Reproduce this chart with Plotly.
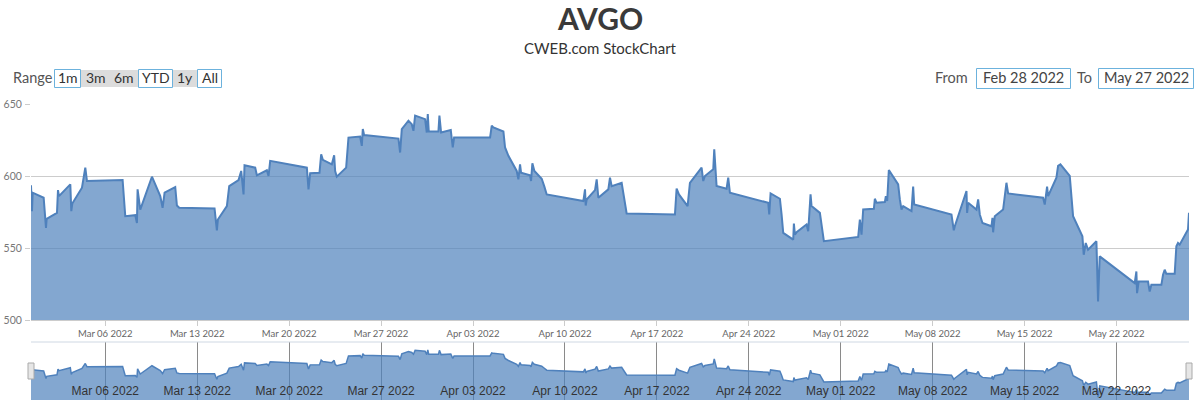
import plotly.graph_objects as go

# ---------------- data ----------------
times = [
    "2022-02-28 08:14", "2022-02-28 10:03", "2022-02-28 11:17", "2022-03-01 07:22", "2022-03-01 11:38",
    "2022-03-01 12:50", "2022-03-02 07:43", "2022-03-02 09:33", "2022-03-02 11:22", "2022-03-03 08:04",
    "2022-03-03 09:53", "2022-03-03 11:43", "2022-03-04 05:23", "2022-03-04 11:28", "2022-03-04 14:31",
    "2022-03-07 07:39", "2022-03-07 12:31", "2022-03-08 06:47", "2022-03-08 09:50", "2022-03-08 11:02",
    "2022-03-08 15:56", "2022-03-09 13:15", "2022-03-10 04:27", "2022-03-10 08:43", "2022-03-10 12:22",
    "2022-03-11 07:50", "2022-03-11 10:53", "2022-03-11 15:10", "2022-03-14 07:41", "2022-03-14 11:57",
    "2022-03-14 13:46", "2022-03-15 06:13", "2022-03-15 10:29", "2022-03-16 03:32", "2022-03-16 08:24",
    "2022-03-16 12:39", "2022-03-16 14:28", "2022-03-17 09:58", "2022-03-17 13:00", "2022-03-18 07:16",
    "2022-03-18 10:19", "2022-03-18 13:22", "2022-03-21 08:21", "2022-03-21 11:22", "2022-03-21 14:25",
    "2022-03-22 07:28", "2022-03-22 10:31", "2022-03-22 13:34", "2022-03-23 06:00", "2022-03-23 10:15",
    "2022-03-23 12:04", "2022-03-23 15:07", "2022-03-24 08:11", "2022-03-24 12:26", "2022-03-25 09:45",
    "2022-03-25 12:48", "2022-03-25 14:37", "2022-03-25 17:04", "2022-03-28 07:45", "2022-03-28 10:48",
    "2022-03-28 13:51", "2022-03-29 02:01", "2022-03-29 08:07", "2022-03-29 11:10", "2022-03-29 14:12",
    "2022-03-30 08:28", "2022-03-30 11:31", "2022-03-30 13:21", "2022-03-30 15:10", "2022-03-31 08:48",
    "2022-03-31 10:38", "2022-03-31 13:42", "2022-04-01 07:22", "2022-04-01 11:01", "2022-04-01 13:26",
    "2022-04-04 07:12", "2022-04-04 10:15", "2022-04-04 13:16", "2022-04-05 07:34", "2022-04-05 10:35",
    "2022-04-05 16:41", "2022-04-06 07:54", "2022-04-06 10:57", "2022-04-06 13:59", "2022-04-06 15:49",
    "2022-04-07 08:15", "2022-04-07 10:05", "2022-04-07 12:30", "2022-04-07 16:10", "2022-04-08 05:34",
    "2022-04-08 10:26", "2022-04-08 14:43", "2022-04-11 09:40", "2022-04-11 12:43", "2022-04-11 13:56",
    "2022-04-11 15:46", "2022-04-12 06:59", "2022-04-12 10:02", "2022-04-12 13:03", "2022-04-13 07:19",
    "2022-04-13 10:22", "2022-04-13 13:25", "2022-04-14 07:41", "2022-04-14 13:45", "2022-04-14 16:48",
    "2022-04-18 09:03", "2022-04-18 12:06", "2022-04-18 16:21", "2022-04-19 08:11", "2022-04-19 12:26",
    "2022-04-20 09:45", "2022-04-20 12:48", "2022-04-20 15:50", "2022-04-21 07:03", "2022-04-21 08:53",
    "2022-04-21 13:09", "2022-04-22 07:25", "2022-04-22 10:26", "2022-04-22 13:29", "2022-04-25 11:34",
    "2022-04-25 13:23", "2022-04-25 15:50", "2022-04-26 08:53", "2022-04-26 11:56", "2022-04-26 14:57",
    "2022-04-27 09:13", "2022-04-27 10:26", "2022-04-27 12:16", "2022-04-27 15:19", "2022-04-28 09:35",
    "2022-04-28 12:37", "2022-04-28 16:53", "2022-04-28 18:43", "2022-04-29 09:56", "2022-04-29 17:14",
    "2022-05-02 07:57", "2022-05-02 10:59", "2022-05-02 14:02", "2022-05-02 17:05", "2022-05-03 12:34",
    "2022-05-03 14:24", "2022-05-03 17:27", "2022-05-04 08:40", "2022-05-04 10:29", "2022-05-04 12:55",
    "2022-05-04 15:58", "2022-05-05 09:00", "2022-05-05 12:03", "2022-05-05 15:06", "2022-05-05 18:09",
    "2022-05-06 09:22", "2022-05-06 12:24", "2022-05-06 14:14", "2022-05-09 10:25", "2022-05-09 14:41",
    "2022-05-09 16:31", "2022-05-10 10:47", "2022-05-10 13:49", "2022-05-10 15:01", "2022-05-10 16:52",
    "2022-05-11 08:05", "2022-05-11 11:08", "2022-05-11 14:11", "2022-05-11 19:03", "2022-05-12 11:30",
    "2022-05-12 13:19", "2022-05-12 14:31", "2022-05-12 17:34", "2022-05-13 08:47", "2022-05-13 11:50",
    "2022-05-13 14:52", "2022-05-13 17:55", "2022-05-16 09:50", "2022-05-16 12:53", "2022-05-16 17:09",
    "2022-05-16 18:59", "2022-05-17 10:12", "2022-05-17 13:15", "2022-05-17 17:31", "2022-05-18 10:34",
    "2022-05-18 16:39", "2022-05-19 09:42", "2022-05-19 12:07", "2022-05-19 15:47", "2022-05-19 20:02",
    "2022-05-20 11:17", "2022-05-20 14:18", "2022-05-20 17:21", "2022-05-23 09:17", "2022-05-23 12:20",
    "2022-05-23 13:32", "2022-05-23 16:35", "2022-05-24 09:37", "2022-05-24 12:40", "2022-05-24 15:43",
    "2022-05-25 09:59", "2022-05-25 13:02", "2022-05-25 16:05", "2022-05-25 19:08", "2022-05-26 10:21",
    "2022-05-26 13:24", "2022-05-26 16:25", "2022-05-26 19:28", "2022-05-27 10:41", "2022-05-27 12:30",
]
prices = [
    593.5, 575.6, 588.4, 584.9, 564.0, 570.2, 574.4, 590.2, 586.0, 594.2,
    575.6, 580.9, 591.9, 605.8, 596.5, 597.2, 572.1, 572.8, 567.4, 590.7,
    576.7, 599.5, 586.0, 577.9, 588.4, 592.3, 579.5, 577.9, 577.4, 562.3,
    569.8, 579.1, 593.0, 597.2, 603.5, 587.2, 607.4, 605.8, 600.5, 604.0,
    600.0, 610.5, 605.8, 590.7, 601.9, 602.3, 615.1, 611.2, 608.1, 614.4,
    603.5, 599.5, 605.8, 626.7, 627.4, 620.9, 632.6, 628.4, 626.0, 616.3,
    632.6, 638.4, 636.0, 631.4, 641.9, 639.5, 630.2, 643.0, 630.9, 630.9,
    641.9, 630.2, 631.9, 619.8, 626.7, 626.7, 634.9, 633.7, 630.9, 619.8,
    614.0, 603.5, 597.7, 608.1, 602.3, 600.5, 596.5, 608.8, 603.5, 598.1,
    592.6, 587.2, 582.6, 590.7, 579.5, 583.7, 590.2, 597.7, 584.9, 590.7,
    598.8, 593.0, 595.3, 581.4, 574.0, 573.3, 591.2, 587.2, 579.1, 595.3,
    605.8, 596.5, 600.0, 604.7, 618.6, 593.0, 591.2, 598.8, 588.4, 581.4,
    573.3, 587.9, 584.2, 573.3, 560.5, 555.8, 567.0, 559.3, 560.9, 566.3,
    561.6, 587.2, 579.1, 574.4, 554.7, 557.7, 569.8, 559.3, 576.7, 577.2,
    584.2, 581.4, 581.9, 586.0, 582.6, 604.2, 594.2, 583.7, 576.7, 579.1,
    575.6, 592.6, 580.2, 573.3, 562.3, 565.1, 584.9, 589.5, 574.4, 581.4,
    576.7, 583.7, 573.3, 567.4, 565.1, 570.9, 560.9, 572.1, 576.7, 587.2,
    595.3, 587.9, 584.9, 580.2, 592.6, 586.0, 598.8, 607.0, 608.1, 600.0,
    572.1, 558.1, 545.3, 553.5, 548.8, 554.7, 512.8, 544.2, 525.6, 533.7,
    518.6, 526.7, 526.7, 519.8, 524.4, 524.4, 531.4, 534.9, 532.1, 532.1,
    551.2, 553.5, 552.3, 562.8, 574.4,
]
y_ticks = [500, 550, 600, 650]
week_tick0 = "2022-03-06"
title_text = "AVGO"
subtitle_text = "CWEB.com StockChart"
range_buttons = ["1m", "3m", "6m", "YTD", "1y", "All"]
from_text = "Feb 28 2022"
to_text = "May 27 2022"

# ---------------- layout helpers ----------------
W, H = 1200, 402
ML, MR, MT, MB = 31, 11, 104, 2
PW, PH = W - ML - MR, H - MT - MB


def px(x):
    return (x - ML) / PW


def py(y):
    return (H - MB - y) / PH


LINE = "#4F81BC"
FILL = "rgba(79,129,188,0.7)"
FONT = "Lato"
WEEK = 7 * 24 * 3600 * 1000

fig = go.Figure()
fig.add_trace(go.Scatter(x=times, y=prices, mode="lines", fill="tozeroy",
                         line=dict(color=LINE, width=2), fillcolor=FILL,
                         xaxis="x", yaxis="y", hoverinfo="x+y"))
fig.add_trace(go.Scatter(x=times, y=prices, mode="lines", fill="tozeroy",
                         line=dict(color=LINE, width=1.5), fillcolor=FILL,
                         xaxis="x2", yaxis="y2", hoverinfo="skip"))

shapes = []
annotations = []

# title & subtitle
annotations.append(dict(text="<b>" + title_text + "</b>", x=px(600), y=py(18), xref="paper", yref="paper",
                        showarrow=False, font=dict(family=FONT, size=30, color="#3a3a3a"),
                        xanchor="center", yanchor="middle"))
annotations.append(dict(text=subtitle_text, x=px(600), y=py(48), xref="paper", yref="paper",
                        showarrow=False, font=dict(family=FONT, size=15, color="#333333"),
                        xanchor="center", yanchor="middle"))

# range selector
annotations.append(dict(text="Range", x=px(11), y=py(78), xref="paper", yref="paper", showarrow=False,
                        font=dict(family=FONT, size=14.5, color="#555555"), xanchor="left", yanchor="middle"))
btn_edges = [54, 81, 110, 138, 173, 197, 222]
btn_gray = [False, True, True, False, True, False]
for i, lab in enumerate(range_buttons):
    x0, x1 = btn_edges[i], btn_edges[i + 1]
    if btn_gray[i]:
        shapes.append(dict(type="rect", xref="paper", yref="paper", x0=px(x0), x1=px(x1),
                           y0=py(87), y1=py(70), fillcolor="#dcdcdc", line=dict(width=0), layer="below"))
    else:
        shapes.append(dict(type="rect", xref="paper", yref="paper", x0=px(x0 + 0.5), x1=px(x1 - 0.5),
                           y0=py(87.5), y1=py(69.5), fillcolor="rgba(0,0,0,0)",
                           line=dict(width=1, color="#6cb2dd")))
    annotations.append(dict(text=lab, x=px((x0 + x1) / 2), y=py(78), xref="paper", yref="paper",
                            showarrow=False, font=dict(family=FONT, size=14, color="#333333"),
                            xanchor="center", yanchor="middle"))

# from / to
annotations.append(dict(text="From", x=px(970), y=py(78), xref="paper", yref="paper", showarrow=False,
                        font=dict(family=FONT, size=14.5, color="#555555"), xanchor="right", yanchor="middle"))
annotations.append(dict(text="To", x=px(1094), y=py(78), xref="paper", yref="paper", showarrow=False,
                        font=dict(family=FONT, size=14.5, color="#555555"), xanchor="right", yanchor="middle"))
for (x0, x1, t) in [(976, 1071, from_text), (1098, 1194, to_text)]:
    shapes.append(dict(type="rect", xref="paper", yref="paper", x0=px(x0 + 0.5), x1=px(x1 - 0.5),
                       y0=py(88.5), y1=py(68.5), fillcolor="rgba(0,0,0,0)",
                       line=dict(width=1, color="#6cb2dd")))
    annotations.append(dict(text=t, x=px((x0 + x1) / 2), y=py(78), xref="paper", yref="paper",
                            showarrow=False, font=dict(family=FONT, size=14.5, color="#444444"),
                            xanchor="center", yanchor="middle"))

# navigator frame & handles
shapes.append(dict(type="line", xref="paper", yref="paper", x0=0, x1=1, y0=py(342), y1=py(342),
                   line=dict(color="#cfd8e3", width=1)))
for hx in (31, 1189):
    shapes.append(dict(type="rect", xref="paper", yref="paper", x0=px(hx - 3), x1=px(hx + 3),
                       y0=py(379), y1=py(363), fillcolor="#e6e6e6", line=dict(color="#aaaaaa", width=1)))

fig.update_layout(
    width=W, height=H,
    margin=dict(l=ML, r=MR, t=MT, b=MB, autoexpand=False),
    paper_bgcolor="white", plot_bgcolor="white",
    showlegend=False,
    font=dict(family=FONT, color="#666666"),
    shapes=shapes, annotations=annotations,
    xaxis=dict(type="date", domain=[0, 1], anchor="y", showgrid=False, zeroline=False, automargin=False,
               tick0=week_tick0, dtick=WEEK, tickformat="%b %d %Y",
               ticks="outside", ticklen=5, tickcolor="#cccccc", showline=True, linecolor="#cccccc",
               tickfont=dict(family=FONT, size=9.5, color="#666666")),
    yaxis=dict(domain=[py(320), 1], anchor="x", range=[500, 650], tickvals=y_ticks, automargin=False,
               showgrid=True, gridcolor="#cccccc", gridwidth=1, zeroline=False,
               ticks="outside", ticklen=5, tickcolor="#cccccc", ticklabelstandoff=1,
               tickfont=dict(family=FONT, size=10.5, color="#777777")),
    xaxis2=dict(type="date", domain=[0, 1], anchor="y2", automargin=False,
                tick0=week_tick0, dtick=WEEK, tickformat="%b %d %Y",
                showgrid=True, gridcolor="#8a8a8a", gridwidth=1, zeroline=False,
                ticks="", ticklabelposition="inside",
                tickfont=dict(family="Liberation Sans", size=12, color="#333333")),
    yaxis2=dict(domain=[0, py(342)], anchor="x2", range=[505, 665], showgrid=False, automargin=False,
                showticklabels=False, zeroline=False, ticks=""),
)

fig.write_html("out.html", config={"displayModeBar": False},
               post_script="document.body.style.margin='0';document.body.style.padding='0';")
